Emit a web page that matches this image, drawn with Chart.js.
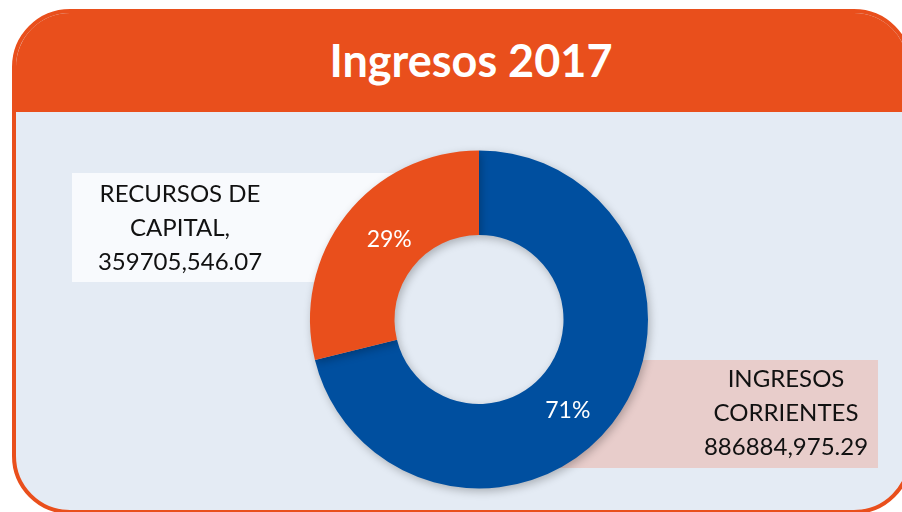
<!DOCTYPE html>
<html>
<head>
<meta charset="utf-8">
<script src="https://cdn.jsdelivr.net/npm/chart.js@4.4.1/dist/chart.umd.min.js"></script>
<style>
    html, body {
        margin: 0;
        padding: 0;
        background: #ffffff;
        overflow: hidden;
    }
    #wrap {
        position: relative;
        width: 902px;
        height: 512px;
        overflow: hidden;
    }
    #frame {
        position: absolute;
        left: 12px;
        top: 9px;
        width: 892px;
        height: 497px;
        border: 4px solid #e94f1c;
        border-radius: 58px;
        background: #e4ebf4;
        overflow: hidden;
    }
    #header {
        position: absolute;
        left: 0;
        top: 0;
        width: 100%;
        height: 99px;
        background: #e94f1c;
        color: #ffffff;
        font-family: Lato, sans-serif;
        font-weight: bold;
        font-size: 45px;
        line-height: 94px;
        text-align: center;
        text-indent: 18px;
    }
    #myChart {
        position: absolute;
        left: 0;
        top: 0;
    }
</style>
</head>
<body>
<div id="wrap">
    <div id="frame">
        <div id="header">Ingresos 2017</div>
    </div>
    <canvas id="myChart" width="902" height="512"></canvas>
</div>
<script>
let categories = ['INGRESOS CORRIENTES', 'RECURSOS DE CAPITAL'];
let amounts = [886884975.29, 359705546.07];
let labelLines = [['INGRESOS', 'CORRIENTES'], ['RECURSOS DE', 'CAPITAL,']];
let sliceColors = ['#004f9f', '#e94f1c'];

let formatAmount = (v) => {
    let thousands = Math.floor(v / 1000);
    let rest = (v - thousands * 1000).toFixed(2);
    return thousands + ',' + rest;
};

let getTotal = () => {
    let total = 0;
    for (let i = 0; i < amounts.length; i++) {
        total += amounts[i];
    }
    return total;
};

// label boxes behind the ring: [box x, y, w, h, fill, text centre x, first baseline]
let boxes = [
    [560, 360, 318, 108, '#e8cdcb', 786, 387],
    [72, 173, 330, 109, '#f8fafd', 180, 202]
];
// small nudges of the % labels away from the arc centroid
let pctNudge = [[-11, 13], [10, -2]];

let labelBoxes = {
    id: 'labelBoxes',
    beforeDatasetsDraw(chart) {
        let ctx = chart.ctx;
        ctx.save();
        ctx.font = '24px Lato';
        ctx.textAlign = 'center';
        ctx.textBaseline = 'alphabetic';
        for (let i = 0; i < categories.length; i++) {
            let b = boxes[i];
            ctx.fillStyle = b[4];
            ctx.fillRect(b[0], b[1], b[2], b[3]);
            ctx.fillStyle = '#111111';
            let lines = labelLines[i].concat([formatAmount(amounts[i])]);
            for (let j = 0; j < lines.length; j++) {
                ctx.fillText(lines[j], b[5], b[6] + j * 34);
            }
        }
        ctx.restore();
    }
};

let ringShadow = {
    id: 'ringShadow',
    beforeDatasetDraw(chart) {
        let ctx = chart.ctx;
        ctx.save();
        ctx.shadowColor = 'rgba(0, 0, 0, 0.25)';
        ctx.shadowBlur = 8;
        ctx.shadowOffsetX = 2;
        ctx.shadowOffsetY = 3;
    },
    afterDatasetDraw(chart) {
        chart.ctx.restore();
    }
};

let percentLabels = {
    id: 'percentLabels',
    afterDatasetsDraw(chart) {
        let ctx = chart.ctx;
        let total = getTotal();
        let meta = chart.getDatasetMeta(0);
        ctx.save();
        ctx.font = '23px Lato';
        ctx.fillStyle = '#ffffff';
        ctx.textAlign = 'center';
        ctx.textBaseline = 'middle';
        meta.data.forEach(function (arc, i) {
            let pos = arc.tooltipPosition();
            let pct = Math.round(amounts[i] / total * 100) + '%';
            ctx.fillText(pct, pos.x + pctNudge[i][0], pos.y + pctNudge[i][1]);
        });
        ctx.restore();
    }
};

let myData = {
    labels: categories,
    datasets: [{
        data: amounts,
        backgroundColor: sliceColors,
        borderWidth: 0,
    }]
};

let myOption = {
    responsive: false,
    animation: false,
    cutout: '50%',
    plugins: {
        legend: { display: false },
        tooltip: { enabled: false },
    },
    layout: {
        padding: {
            left: 310,
            right: 254,
            top: 150,
            bottom: 23,
        },
    },
};

let ctx = document.getElementById('myChart').getContext('2d');
let myChart = new Chart(ctx, {
    type: 'doughnut',
    data: myData,
    options: myOption,
    plugins: [labelBoxes, ringShadow, percentLabels]
});
</script>
</body>
</html>
